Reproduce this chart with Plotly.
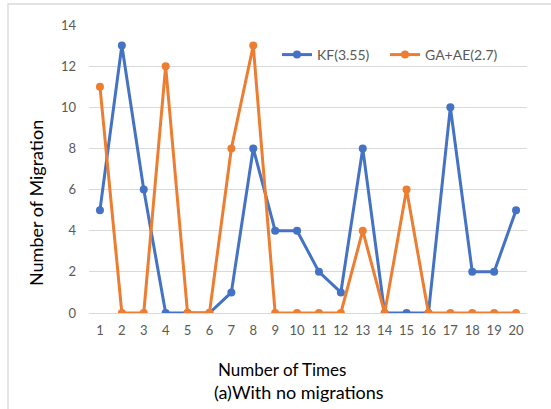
import plotly.graph_objects as go

times = list(range(1, 21))
kf_values = [5, 13, 6, 0, 0, 0, 1, 8, 4, 4, 2, 1, 8, 0, 0, 0, 10, 2, 2, 5]
ga_ae_values = [11, 0, 0, 12, 0, 0, 8, 13, 0, 0, 0, 0, 4, 0, 6, 0, 0, 0, 0, 0]
series_names = ["KF(3.55)", "GA+AE(2.7)"]
y_ticks = [0, 2, 4, 6, 8, 10, 12, 14]

BLUE = "#4472C4"
ORANGE = "#ED7D31"
GREY_TXT = "#595959"
FONT = "Lato, Open Sans, sans-serif"

W, H = 551, 409
L, R, T, B = 89, 24, 25, 96

fig = go.Figure()
for name, vals, col, lg in [(series_names[0], kf_values, BLUE, "legend"),
                            (series_names[1], ga_ae_values, ORANGE, "legend2")]:
    fig.add_trace(go.Scatter(
        x=times, y=vals, name=name, mode="lines+markers",
        line=dict(color=col, width=3),
        marker=dict(color=col, size=8),
        legend=lg,
    ))

pw = W - L - R
ph = H - T - B

def px2x(px):
    return (px - L) / pw

def py2y(py):
    return 1 - (py - T) / ph

legend_common = dict(
    orientation="h", yanchor="middle", xanchor="left",
    font=dict(size=14, color=GREY_TXT), bgcolor="rgba(0,0,0,0)", itemwidth=30,
)

fig.update_layout(
    width=W, height=H,
    margin=dict(l=L, r=R, t=T, b=B),
    paper_bgcolor="white", plot_bgcolor="white",
    font=dict(family=FONT, color=GREY_TXT, size=13),
    showlegend=True,
    hovermode=False,
    legend=dict(x=px2x(277), y=py2y(55), **legend_common),
    legend2=dict(x=px2x(385), y=py2y(55), **legend_common),
    xaxis=dict(
        range=[0.5, 20.5], tickmode="array", tickvals=times, ticktext=[str(t) for t in times],
        showgrid=False, zeroline=False, showline=False, ticks="",
        tickfont=dict(size=13, color=GREY_TXT), ticklabelstandoff=8, fixedrange=True,
    ),
    yaxis=dict(
        range=[0, 14], tickmode="array", tickvals=y_ticks,
        showgrid=True, gridcolor="#D9D9D9", gridwidth=1,
        zeroline=True, zerolinecolor="#D9D9D9", zerolinewidth=1,
        showline=False, ticks="", tickfont=dict(size=13, color=GREY_TXT),
        ticklabelstandoff=12, fixedrange=True,
    ),
    shapes=[dict(
        type="rect", xref="paper", yref="paper",
        x0=px2x(8), x1=px2x(W + 20), y0=py2y(H + 20), y1=py2y(4),
        line=dict(color="#D9D9D9", width=1.3), fillcolor="rgba(0,0,0,0)", layer="below",
    )],
    annotations=[
        dict(text="Number of Migration", xref="paper", yref="paper", x=px2x(36), y=py2y(203),
             textangle=-90, showarrow=False, font=dict(size=18, color="#000000"),
             xanchor="center", yanchor="middle"),
        dict(text="Number of Times", xref="paper", yref="paper", x=px2x(282), y=py2y(369),
             showarrow=False, font=dict(size=17, color="#000000"), xanchor="center", yanchor="middle"),
        dict(text="(a)With no migrations", xref="paper", yref="paper", x=px2x(299), y=py2y(392),
             showarrow=False, font=dict(size=18, color="#000000"), xanchor="center", yanchor="middle"),
    ],
)

fig.write_html("out.html", config={"displayModeBar": False, "staticPlot": True},
               post_script="document.body.style.margin='0';document.body.style.overflow='hidden';")
